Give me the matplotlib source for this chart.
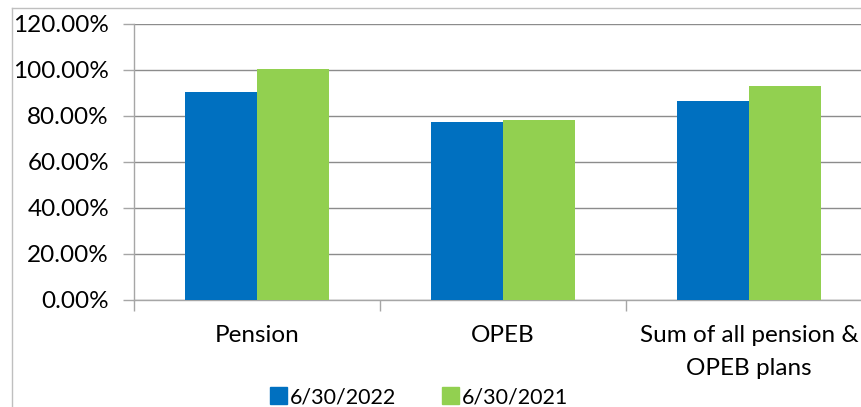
import matplotlib
matplotlib.use("Agg")
import matplotlib.pyplot as plt
from matplotlib.lines import Line2D
from matplotlib.patches import Patch
from matplotlib.ticker import FuncFormatter
import numpy as np

categories = ["Pension", "OPEB", "Sum of all pension &\nOPEB plans"]
series_names = ["6/30/2022", "6/30/2021"]
values_2022 = [90.6, 77.2, 86.5]
values_2021 = [100.4, 78.3, 93.2]
yticks = [0, 20, 40, 60, 80, 100, 120]

colors = ["#0070C0", "#92D050"]
plt.rcParams['font.family'] = ['Lato', 'DejaVu Sans']
FS = 17.5

fig = plt.figure(figsize=(8.62, 4.07), dpi=100)
ax = fig.add_axes([134/862, 1-300/407, (872-134)/862, (300-24)/407])

x = np.arange(len(categories))
w = 0.293
ax.bar(x - w/2, values_2022, w, color=colors[0], zorder=3)
ax.bar(x + w/2, values_2021, w, color=colors[1], zorder=3)

ax.set_xlim(-0.5, 2.5)
ax.set_ylim(0, 120)
ax.set_yticks(yticks)
ax.yaxis.set_major_formatter(FuncFormatter(lambda v, p: f"{v:.2f}%"))
ax.grid(axis='y', color='#8C8C8C', lw=1, zorder=0)
ax.set_axisbelow(True)

ax.set_xticks(x)
ax.set_xticklabels(categories, linespacing=1.7)
ax.set_xticks([-0.5, 0.5, 1.5, 2.5], minor=True)
ax.tick_params(axis='x', which='major', length=0, pad=18, labelsize=FS, colors='black')
ax.tick_params(axis='x', which='minor', length=8, color='#A6A6A6', width=1)
ax.tick_params(axis='y', length=8, color='#A6A6A6', width=1, labelsize=FS, pad=10)

for s in ['top', 'right']:
    ax.spines[s].set_visible(False)
for s in ['left', 'bottom']:
    ax.spines[s].set_color('#A6A6A6')
    ax.spines[s].set_linewidth(1)

# chart border
fig.add_artist(Line2D([12/862, 12/862], [0, 1-8/407], color='#BFBFBF', lw=1, transform=fig.transFigure))
fig.add_artist(Line2D([12/862, 1], [1-8/407, 1-8/407], color='#BFBFBF', lw=1, transform=fig.transFigure))

handles = [Patch(color=colors[0]), Patch(color=colors[1])]
fig.legend(handles, series_names, loc='center', bbox_to_anchor=(419/862, 1-397/407),
           ncol=2, frameon=False, fontsize=15.5, handlelength=0.8, handleheight=0.8,
           handletextpad=0.15, columnspacing=2.1, borderaxespad=0, borderpad=0)

fig.savefig("out.png", dpi=100)
